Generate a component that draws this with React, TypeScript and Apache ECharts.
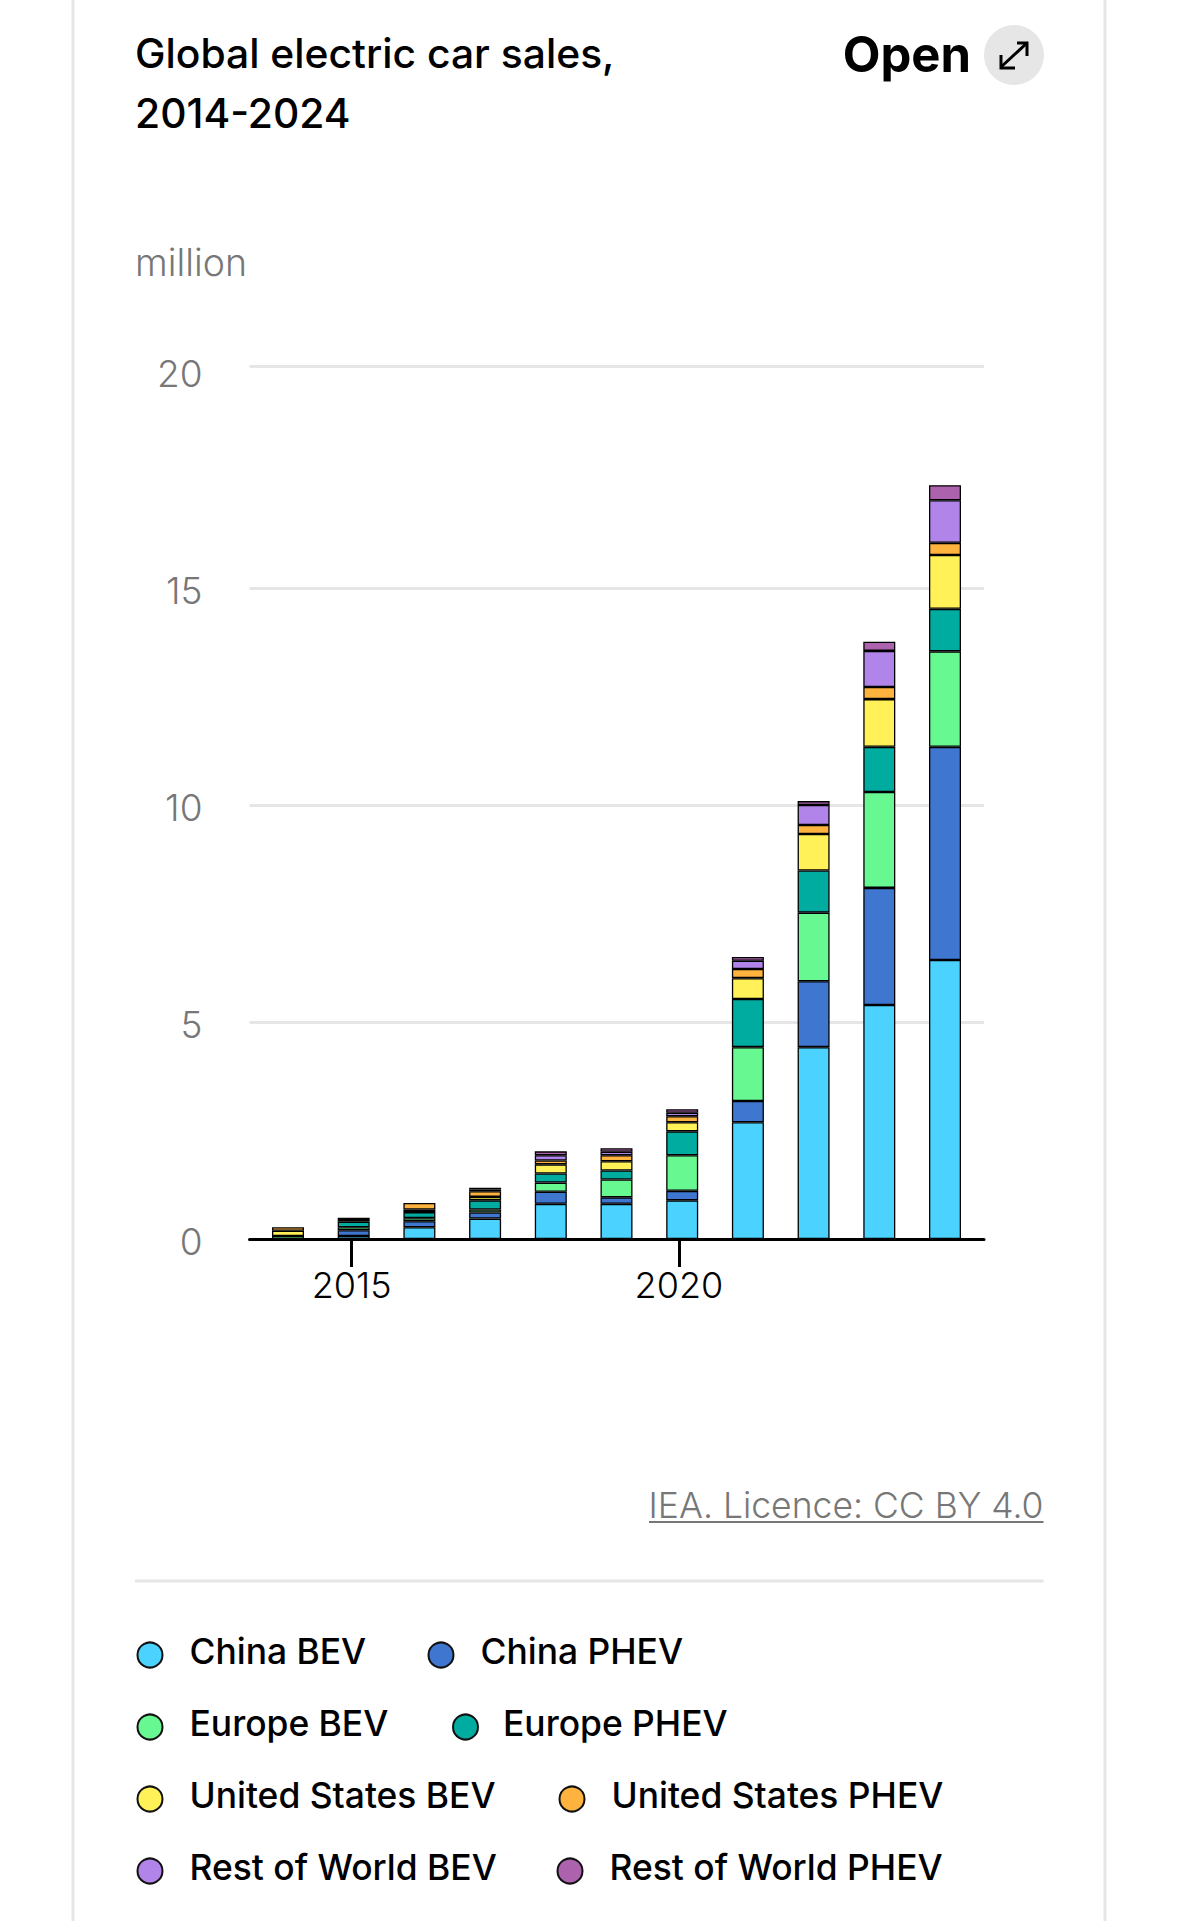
import React, { useEffect, useRef } from "react";
import * as echarts from "echarts";

const years = ["2014", "2015", "2016", "2017", "2018", "2019", "2020", "2021", "2022", "2023", "2024"];
const chinaBev = [null, 0.07, 0.27, 0.47, 0.81, 0.81, 0.89, 2.69, 4.42, 5.39, 6.43];
const chinaPhev = [null, 0.13, 0.14, 0.14, 0.28, 0.15, 0.22, 0.49, 1.52, 2.7, 4.91];
const europeBev = [0.07, 0.07, 0.07, 0.07, 0.21, 0.41, 0.82, 1.24, 1.58, 2.21, 2.2];
const europePhev = [null, 0.13, 0.14, 0.21, 0.21, 0.21, 0.55, 1.11, 0.97, 1.04, 0.98];
const usBev = [0.12, 0.04, 0.06, 0.08, 0.21, 0.21, 0.21, 0.48, 0.84, 1.1, 1.24];
const usPhev = [0.08, 0.05, 0.15, 0.13, 0.09, 0.14, 0.14, 0.21, 0.21, 0.28, 0.28];
const rowBev = [null, null, null, 0.04, 0.12, 0.08, 0.08, 0.19, 0.46, 0.83, 0.98];
const rowPhev = [null, null, null, 0.04, 0.09, 0.08, 0.08, 0.09, 0.09, 0.21, 0.35];

const seriesNames = [
  "China BEV", "China PHEV", "Europe BEV", "Europe PHEV",
  "United States BEV", "United States PHEV", "Rest of World BEV", "Rest of World PHEV",
];
const seriesValues = [chinaBev, chinaPhev, europeBev, europePhev, usBev, usPhev, rowBev, rowPhev];
const seriesColors = ["#4bd2ff", "#3f77d0", "#68f892", "#00aba0", "#fff157", "#ffb33f", "#b184e9", "#ad62ad"];

const yTickLabels = [0, 5, 10, 15, 20];
const xTickYears = [2015, 2020];
const gridValues = [0, 5, 10, 15, 20.115];
const Y_MAX = 20.115;

// legend layout: [marker left, marker top, gap before the text] for each entry
const legendLayout = [
  [136.5, 1633.5, 22], [427.5, 1633.5, 22],
  [136.5, 1705.5, 22], [452, 1705.5, 20],
  [136.5, 1777.5, 22], [558.5, 1777.5, 22],
  [136.5, 1849.5, 22], [556.5, 1849.5, 22],
];

const FONT = "Inter";
const GREY = "#777777";

export default function App() {
  const ref = useRef<HTMLDivElement>(null);
  useEffect(() => {
    document.body.style.margin = "0";
    const chart = echarts.init(ref.current!, null, { renderer: "svg" });
    chart.setOption({
      animation: false,
      backgroundColor: "#ffffff",
      title: {
        text: "Global electric car sales,\n2014-2024",
        left: 135,
        top: 23,
        padding: 0,
        textStyle: { fontFamily: FONT, fontSize: 40.8, fontWeight: 500, color: "#000", lineHeight: 60 },
      },
      grid: [
        { left: 255.15, right: 201.15, top: 366, bottom: 682 },
        { left: 249.5, right: 195, top: 366, bottom: 682 },
      ],
      xAxis: [
        { type: "category", gridIndex: 0, data: years, show: false },
        {
          type: "value",
          gridIndex: 1,
          min: 2013.44,
          max: 2024.66,
          splitLine: { show: false },
          axisLine: { show: true, onZero: false, lineStyle: { color: "#000", width: 3 } },
          axisTick: { show: true, length: 28, customValues: xTickYears, lineStyle: { color: "#000", width: 3 } },
          axisLabel: {
            customValues: xTickYears,
            margin: 27.5,
            formatter: (v: number) => String(v),
            fontFamily: FONT,
            fontSize: 36,
            fontWeight: 300,
            color: "#000",
          },
        },
      ],
      yAxis: [
        { type: "value", gridIndex: 0, min: 0, max: Y_MAX, show: false },
        {
          type: "value",
          gridIndex: 1,
          min: 0,
          max: Y_MAX,
          axisLine: { show: false },
          axisTick: { show: false, customValues: gridValues },
          splitLine: { show: true, lineStyle: { color: "#e6e6e6", width: 3 } },
          axisLabel: {
            customValues: yTickLabels,
            margin: 47,
            formatter: "{t|{value}}",
            rich: {
              t: {
                fontFamily: FONT,
                fontSize: 37,
                fontWeight: 300,
                color: GREY,
                padding: [5, 0, 0, 0],
              },
            },
          },
        },
      ],
      legend: seriesNames.map((name, i) => ({
        data: [name],
        left: legendLayout[i][0],
        top: legendLayout[i][1],
        padding: 0,
        icon: "circle",
        itemWidth: 25,
        itemHeight: 25,
        selectedMode: false,
        itemStyle: { borderColor: "#111", borderWidth: 2 },
        formatter: "{t|{name}}",
        textStyle: {
          rich: {
            t: {
              fontFamily: FONT,
              fontSize: 35.4,
              fontWeight: 500,
              color: "#000",
              padding: [0, 0, 8, legendLayout[i][2]],
            },
          },
        },
      })),
      series: seriesNames.map((name, i) => ({
        name,
        type: "bar",
        stack: "sales",
        xAxisIndex: 0,
        yAxisIndex: 0,
        barWidth: 32,
        data: seriesValues[i],
        itemStyle: { color: seriesColors[i], borderColor: "#000", borderWidth: 1.3 },
      })),
      graphic: [
        { type: "rect", shape: { x: 73, y: -5, width: 1032, height: 1940 }, style: { fill: "none", stroke: "#e6e6e6", lineWidth: 3 }, z: -1 },
        { type: "text", x: 135, y: 262, style: { text: "million", fontFamily: FONT, fontSize: 37.5, fontWeight: 300, fill: GREY, verticalAlign: "middle" } },
        { type: "text", x: 971, y: 54, style: { text: "Open", fontFamily: FONT, fontSize: 49, fontWeight: 700, fill: "#000", align: "right", verticalAlign: "middle" } },
        { type: "circle", shape: { cx: 1014, cy: 55, r: 30 }, style: { fill: "#e6e6e6" } },
        { type: "line", shape: { x1: 1001, y1: 67, x2: 1027, y2: 43 }, style: { stroke: "#000", lineWidth: 3 } },
        { type: "polyline", shape: { points: [[1017, 43], [1027, 43], [1027, 56]] }, style: { stroke: "#000", lineWidth: 3, fill: "none" } },
        { type: "polyline", shape: { points: [[1001, 55], [1001, 68], [1015, 68]] }, style: { stroke: "#000", lineWidth: 3, fill: "none" } },
        { type: "text", x: 1043.5, y: 1505, style: { text: "IEA. Licence: CC BY 4.0", fontFamily: FONT, fontSize: 35.5, fontWeight: 300, fill: GREY, align: "right", verticalAlign: "middle" } },
        { type: "line", shape: { x1: 649, y1: 1522, x2: 1043.5, y2: 1522 }, style: { stroke: GREY, lineWidth: 2 } },
        { type: "line", shape: { x1: 135, y1: 1581, x2: 1043.5, y2: 1581 }, style: { stroke: "#e6e6e6", lineWidth: 3 } },
      ],
    });
    return () => chart.dispose();
  }, []);
  return <div ref={ref} style={{ position: "absolute", left: 0, top: 0, width: 1179, height: 1921 }} />;
}
